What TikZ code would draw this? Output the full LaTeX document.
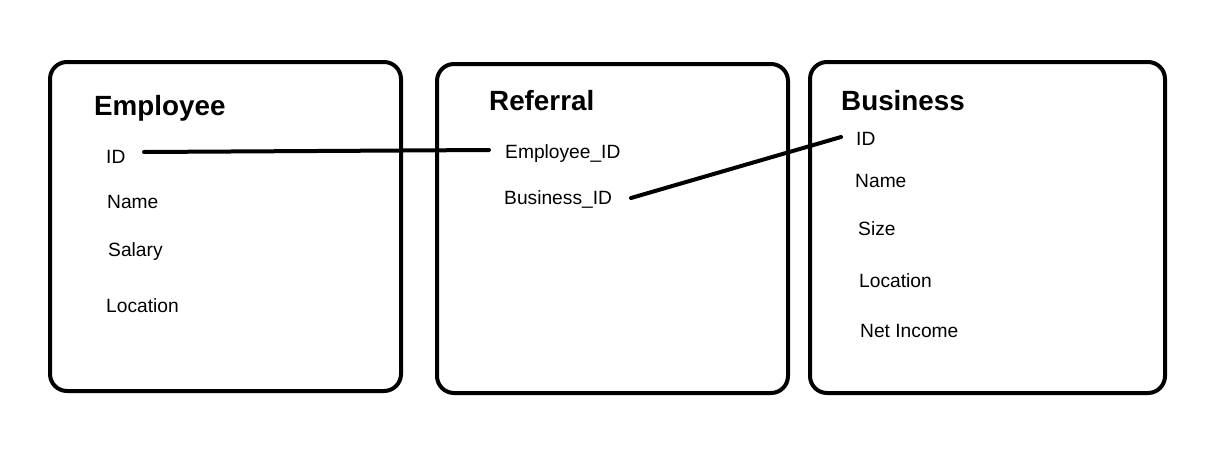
\documentclass[tikz,border=0pt]{standalone}
\usepackage{fontspec}
\setmainfont{Liberation Sans}
\begin{document}
\begin{tikzpicture}[x=1pt,y=-1pt,
  entbox/.style={draw=black,line width=4pt,rounded corners=17pt},
  title/.style={anchor=base west,inner sep=0pt,font=\fontsize{27.8}{30}\selectfont\bfseries},
  attr/.style={anchor=base west,inner sep=0pt,font=\fontsize{19.2}{21}\selectfont},
  link/.style={draw=black,line width=4pt,line cap=round,line join=round}]
\useasboundingbox[fill=white] (0,0) rectangle (1220,463);
% boxes
\draw[entbox] (50,62) rectangle (401,391);
\draw[entbox] (437,64) rectangle (788,393);
\draw[entbox] (810,62) rectangle (1165,393);
% Employee
\node[title] (empT) at (94,115) {Employee};
\node[attr] (empID) at (106,163) {ID};
\node[attr] (empName) at (107,208) {Name};
\node[attr] (empSal) at (108,256) {Salary};
\node[attr] (empLoc) at (106,312) {Location};
% Referral
\node[title] (refT) at (489,110) {Referral};
\node[attr] (refE) at (505,158) {Employee\_ID};
\node[attr] (refB) at (504,204) {Business\_ID};
% Business
\node[title] (busT) at (841,110) {Business};
\node[attr] (busID) at (856,145) {ID};
\node[attr] (busName) at (855,187) {Name};
\node[attr] (busSize) at (858,235) {Size};
\node[attr] (busLoc) at (859,287) {Location};
\node[attr] (busNI) at (860,337) {Net Income};
% connector ends
\coordinate (c1) at (144,152);
\coordinate (c1m) at (317,151);
\coordinate (c2) at (489,150);
\coordinate (c3) at (631,198);
\coordinate (c4) at (841,137);
\draw[link] (c1) -- (c1m) -- (c2);
\draw[link] (c3) -- (c4);
\end{tikzpicture}
\end{document}
